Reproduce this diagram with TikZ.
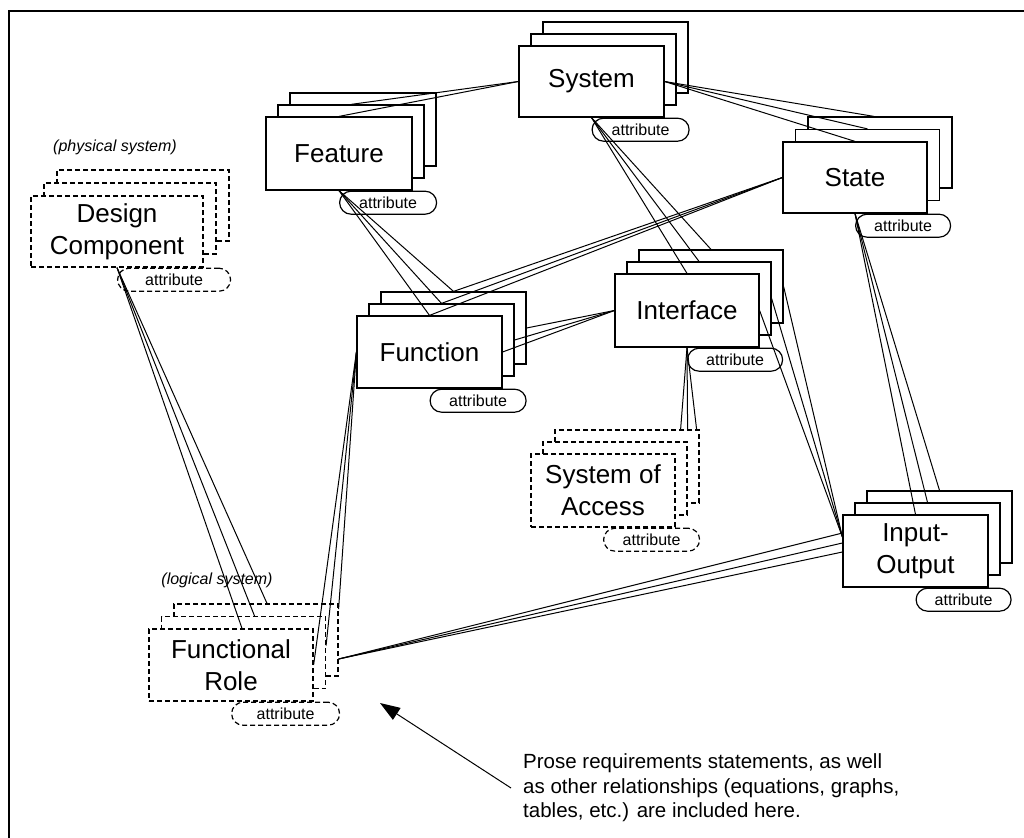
\documentclass[tikz,border=0pt]{standalone}
\usepackage{fontspec}
\setmainfont{Liberation Sans}
\usetikzlibrary{arrows.meta}
\tikzset{
  solidln/.style={line width=1.2pt},
  dashln/.style={line width=1.2pt, dash pattern=on 5pt off 3pt},
  card/.style={draw, fill=white, inner sep=0pt, align=center, font=\fontsize{26}{32}\selectfont},
  pill/.style={draw, fill=white, rounded corners=11.5pt, minimum height=23pt, inner sep=0pt, font=\fontsize{16}{19}\selectfont},
  conn/.style={line width=1pt},
  note/.style={font=\itshape\fontsize{16}{19}\selectfont},
  prosetext/.style={font=\fontsize{20.5}{24.5}\selectfont, align=left, anchor=west, inner sep=0pt},
  pointer/.style={line width=1pt, -{Triangle[length=20pt,width=14pt]}}
}
% name, cx, cy, w, h, offset, line style, label, pill width
\newcommand\mkstack[9]{%
  \node[card, #7, minimum width=#4pt, minimum height=#5pt] (#1-3) at (#2+2*#6, #3-2*#6) {};
  \node[card, #7, minimum width=#4pt, minimum height=#5pt] (#1-2) at (#2+#6, #3-#6) {};
  \node[card, #7, minimum width=#4pt, minimum height=#5pt] (#1) at (#2,#3) {#8};
  \node[pill, #7, minimum width=#9pt, anchor=north west] (#1-at) at (#1.south) {attribute};
}
\begin{document}
\begin{tikzpicture}[x=1pt, y=-1pt]
\useasboundingbox (0,0) rectangle (1024,837);
\fill[white] (0,0) rectangle (1024,837);
\draw[line width=2.5pt] (9,840) -- (9,11) -- (1030,11);

\mkstack{sys}{591.5}{81.5}{145}{71}{12}{solidln}{System}{97}
\mkstack{fea}{339}{153.5}{146}{73}{12}{solidln}{Feature}{97}
\mkstack{sta}{855}{177.5}{144}{71}{12.5}{solidln}{State}{95}
\mkstack{int}{687}{310.5}{144}{73}{12}{solidln}{Interface}{95}
\mkstack{fun}{429.5}{352}{145}{72}{12}{solidln}{Function}{96}
\mkstack{io}{915.5}{551}{145}{72}{12}{solidln}{Input-\\Output}{95}
\mkstack{soa}{603}{490.5}{144}{73}{12}{dashln}{System of\\Access}{96}
\mkstack{dc}{117}{231.5}{172}{71}{13}{dashln}{Design\\Component}{113}
\mkstack{fr}{231}{665}{164}{72}{12.5}{dashln}{Functional\\Role}{108}

\node[note] (phys) at (115,147) {(physical system)};
\node[note] (logi) at (217,580) {(logical system)};

\begin{scope}[conn]
\draw (sys.west) -- (fea.north);
\draw (sys.west) -- (fea-2.north);
\draw (sys.east) -- ([xshift=-6pt]sta-3.north);
\draw (sys.east) -- (sta-2.north);
\draw (sys.east) -- (sta.north);
\foreach \t in {int,int-2,int-3} \draw (sys.south) -- (\t.north);
\foreach \t in {fun,fun-2,fun-3} {\draw (fea.south) -- (\t.north); \draw (sta.west) -- (\t.north);}
\foreach \t in {fun,fun-2,fun-3} \draw (int.west) -- (\t.east);
\foreach \s in {-19,-12,-3} \draw (int.south) -- ([xshift=\s pt]soa-3.north east);
\foreach \t in {int,int-2,int-3} \draw (\t.east) -- ([yshift=14pt]io.west);
\foreach \t in {io,io-2,io-3} \draw (sta.south) -- (\t.north);
\foreach \s in {18,8,-1} \draw ([yshift=-19pt]fr-3.east) -- ([yshift=\s pt]io.west);
\draw (fun.west) -- (fr.east);
\draw (fun.west) -- ([yshift=7pt]fr-2.east);
\draw (fun.west) -- ([yshift=31pt]fr-3.east);
\foreach \t in {fr,fr-2,fr-3} \draw (dc.south) -- ([xshift=11pt]\t.north);
\end{scope}

\node[prosetext] (prose) at (523,788) {Prose requirements statements, as well\\as other relationships (equations, graphs,\\tables, etc.) are included here.};
\coordinate (tip) at (380,703);
\draw[pointer] ([xshift=-12pt]prose.west) -- (tip);
\end{tikzpicture}
\end{document}
